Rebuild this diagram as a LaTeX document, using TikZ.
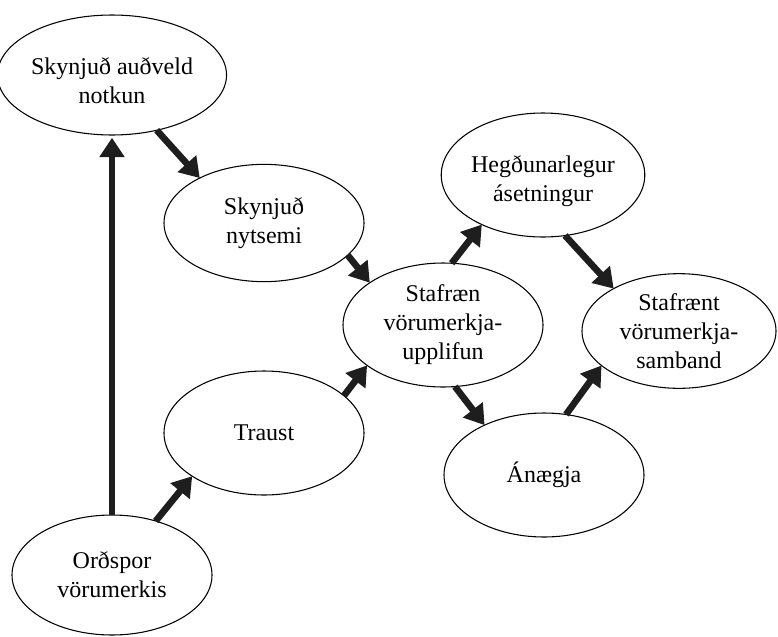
\documentclass[tikz,border=0pt]{standalone}
\usepackage{fontspec}
\setmainfont{Liberation Serif}
\usetikzlibrary{arrows.meta,shapes.geometric}
\definecolor{arrowcol}{HTML}{1E1E1E}
\newcommand{\lowerstrut}{\rule{0pt}{21.5pt}}
\begin{document}
\begin{tikzpicture}[x=0.75pt,y=-0.75pt,
  bub/.style={ellipse,draw=black,line width=0.8pt,fill=white,inner sep=0pt,outer sep=0pt,
    minimum width=150pt,minimum height=91pt,align=center,
    font=\fontsize{18}{21.75}\selectfont},
  conn/.style={draw=arrowcol,line width=5pt,
    -{Triangle[length=14.5pt,width=18pt]}, arrowcol}]
\useasboundingbox (0,0) rectangle (778,636);
\node[bub,minimum height=90pt] (A) at (112,75) {\lowerstrut Skynjuð auðveld\\notkun};
\node[bub,minimum height=88pt] (B) at (264,223) {Skynjuð\\nytsemi};
\node[bub,minimum height=93pt] (C) at (443,325) {Stafræn\\vörumerkja-\\upplifun};
\node[bub,minimum height=93pt] (D) at (543,175) {\lowerstrut Hegðunarlegur\\ásetningur};
\node[bub,minimum width=145.5pt,minimum height=86pt] (E) at (679,331) {Stafrænt\\vörumerkja-\\samband};
\node[bub,minimum height=93pt] (F) at (264,433) {Traust};
\node[bub,minimum height=93pt] (G) at (544,475) {Ánægja};
\node[bub,minimum height=90pt] (H) at (112,575) {Orðspor\\vörumerkis};
\draw[conn,shorten >=2pt] (H.north) -- (A.south);
\draw[conn] (A.-51) -- (B.145);
\draw[conn] (B.-21) -- (C.150);
\draw[conn] (F.25) -- (C.208);
\draw[conn] (H.51) -- (F.211);
\draw[conn] (C.82) -- (D.219);
\draw[conn] (D.-70) -- (E.147);
\draw[conn] (C.-79) -- (G.140);
\draw[conn] (G.70) -- (E.204);
\end{tikzpicture}
\end{document}
